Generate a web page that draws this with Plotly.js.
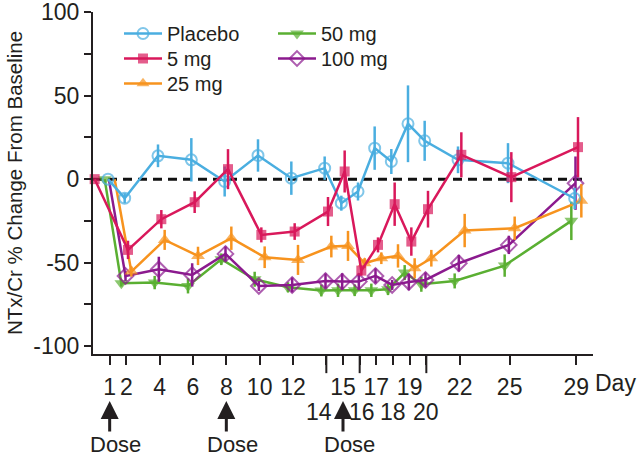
<!DOCTYPE html>
<html>
<head>
<meta charset="utf-8">
<script src="https://cdn.plot.ly/plotly-3.0.1.min.js"></script>
<style>
html,body{margin:0;padding:0;background:#fff;}
#chart{width:638px;height:458px;}
</style>
</head>
<body>
<div id="chart"></div>
<script>
// ---- data ----
const days = [1, 2, 4, 6, 8, 10, 12, 14, 15, 16, 17, 18, 19, 20, 22, 25, 29];
const days5mg = [0, 2, 4, 6, 8, 10, 12, 14, 15, 16, 17, 18, 19, 20, 22, 25, 29];

const placebo    = [0, -11.4, 14, 11.6, -1.4, 14.2, 0.6, 6.6, -14.4, -7.4, 18.6, 10.6, 33.2, 23, 11.6, 9.6, -11.6];
const placeboErr = [0, 3, 6.8, 13, 9, 9.7, 10, 7, 4.5, 5.4, 13, 7.5, 23, 12, 8, 12, 6.4];

const mg5    = [0, -42.4, -24, -13.8, 6, -33.4, -31.4, -19.4, 4.6, -54.8, -39.4, -15, -37.4, -18, 14.6, 1.2, 19.2];
const mg5Err = [0, 5.5, 5.5, 6.5, 12, 4.5, 5, 8.7, 12.6, 3, 4.5, 13, 8.5, 11, 13.5, 15, 18];

const mg25    = [0, -55.4, -36.4, -46, -35.4, -46.8, -48.4, -40.4, -40, -50.4, -47.4, -46, -53.4, -47.4, -30.8, -29.4, -13];
const mg25Err = [0, 3, 6, 5.5, 7, 6.5, 9, 6.5, 9, 3, 3.5, 7, 6, 5, 10, 7, 10];

const mg50    = [0, -62.4, -62, -64, -48, -60, -64.8, -66.8, -66.6, -66.6, -66.6, -66, -56, -63, -61, -51.8, -25];
const mg50Err = [0, 2, 4, 4.5, 3.5, 4.5, 3, 3.5, 4, 3.5, 4, 3.5, 4.5, 4.5, 4.5, 6.7, 11.5];

const mg100    = [0, -58, -54, -57.4, -44.8, -64, -63.4, -61, -61.4, -61.4, -58, -63.4, -61.6, -60.4, -50.4, -39.4, -2.4];
const mg100Err = [0, 3, 7.5, 7, 4.5, 3, 4.5, 4.5, 5, 5, 4.5, 3, 5, 4.5, 5, 5.5, 16];

const xTickVals = [1, 2, 4, 6, 8, 10, 12, 14, 15, 16, 17, 18, 19, 20, 22, 25, 29];
const xTickText = ['1', '2', '4', '6', '8', '10', '12', '', '15', '', '17', '', '19', '', '22', '25', '29'];
const xLowerLabels = [14, 16, 18, 20];
const xLongTicks = [14, 16, 20];
const doseDays = [1, 8, 15];

const yTickVals = [-100, -75, -50, -25, 0, 25, 50, 75, 100];
const yTickText = ['-100', '', '-50', '', '0', '', '50', '', '100'];

// ---- styling ----
const FONT = 'Liberation Sans, Arial, Helvetica, sans-serif';
const INK = '#231f20';
const C = {placebo: '#4aaee0', mg5: '#d9185b', mg25: '#f7931e', mg50: '#5aaf32', mg100: '#8b1a8e'};
// small horizontal dodge so the error bars don't sit on each other
const dodge = {placebo: -0.1, mg5: 0.1, mg25: 0.3, mg50: -0.3, mg100: -0.05};

function series(name, xs, ys, err, color, symbol, size, off, legend, hideFirst) {
  const open = symbol.indexOf('open') >= 0;
  return {
    type: 'scatter', mode: 'lines+markers', name: name,
    x: xs.map(d => d + off), y: ys,
    error_y: {type: 'data', array: err, visible: true, color: color, thickness: 2.5, width: 0},
    line: {color: color, width: 2.5},
    marker: {symbol: symbol, size: ys.map((v, i) => (hideFirst && i === 0) ? 0 : size), color: color,
             line: {color: color, width: open ? 2 : 0}},
    cliponaxis: false,
    legend: legend
  };
}

const traces = [
  series('50 mg', days, mg50, mg50Err, C.mg50, 'triangle-down', 12, dodge.mg50, 'legend4', false),
  series('100 mg', days, mg100, mg100Err, C.mg100, 'diamond-open', 12, dodge.mg100, 'legend5', true),
  series('25 mg', days, mg25, mg25Err, C.mg25, 'triangle-up', 12, dodge.mg25, 'legend3', true),
  series('Placebo', days, placebo, placeboErr, C.placebo, 'circle-open', 11, dodge.placebo, 'legend', false),
  series('5 mg', days5mg, mg5, mg5Err, C.mg5, 'square', 10, dodge.mg5, 'legend2', false)
];

const shapes = [
  {type: 'line', xref: 'x', yref: 'y', x0: 0, x1: 29.7, y0: 0, y1: 0,
   line: {color: '#111', width: 3, dash: '9px,6px'}, layer: 'below'}
];
xLongTicks.forEach(d => shapes.push({
  type: 'line', xref: 'x', yref: 'paper', x0: d, x1: d, y0: 0, y1: -0.056,
  line: {color: INK, width: 2}
}));

const annotations = [];
xLowerLabels.forEach(d => annotations.push({
  xref: 'x', yref: 'paper', x: d, y: 0, yshift: -58, xshift: d === 14 ? -7 : (d === 16 ? 2 : 0),
  text: String(d), showarrow: false, font: {family: FONT, size: 23, color: INK},
  xanchor: 'center', yanchor: 'middle'
}));
doseDays.forEach(d => {
  annotations.push({
    xref: 'x', yref: 'paper', x: d, y: 0, yshift: -47, text: '', showarrow: true,
    ax: 0, ay: 32, arrowhead: 2, arrowsize: 1.2, arrowwidth: 3, arrowcolor: INK
  });
  annotations.push({
    xref: 'x', yref: 'paper', x: d, y: 0, yshift: -104, xshift: 6, text: 'Dose', showarrow: false,
    font: {family: FONT, size: 22, color: INK}, xanchor: 'center', yanchor: 'bottom', borderpad: 0
  });
});
annotations.push({
  xref: 'paper', yref: 'paper', x: 1, y: 0, yshift: -29, xshift: 0, text: 'Day', showarrow: false,
  font: {family: FONT, size: 23, color: INK}, xanchor: 'left', yanchor: 'middle'
});

function legendAt(leftPx, rowCenterPx) {
  return {x: (leftPx - 93) / 500, y: (354 - (rowCenterPx - 19)) / 342, xanchor: 'left', yanchor: 'top',
          bgcolor: 'rgba(0,0,0,0)', font: {family: FONT, size: 20, color: INK}, itemwidth: 38};
}

const layout = {
  width: 638, height: 458,
  margin: {l: 93, r: 45, t: 12, b: 104, pad: 0},
  paper_bgcolor: '#fff', plot_bgcolor: '#fff',
  font: {family: FONT, size: 22, color: INK},
  showlegend: true,
  xaxis: {
    range: [0, 30], showgrid: false, zeroline: false,
    showline: true, linecolor: INK, linewidth: 2,
    ticks: 'outside', ticklen: 9, tickwidth: 2, tickcolor: INK,
    tickmode: 'array', tickvals: xTickVals, ticktext: xTickText,
    tickfont: {family: FONT, size: 23, color: INK}, tickangle: 0,
    ticklabelstandoff: 2, ticklabeloverflow: 'allow'
  },
  yaxis: {
    range: [-104.8, 100.2], showgrid: false, zeroline: false,
    showline: true, linecolor: INK, linewidth: 2,
    ticks: 'outside', ticklen: 7, tickwidth: 2, tickcolor: INK,
    tickmode: 'array', tickvals: yTickVals, ticktext: yTickText,
    tickfont: {family: FONT, size: 23, color: INK}, ticklabeloverflow: 'allow',
    title: {text: 'NTx/Cr % Change From Baseline', font: {family: FONT, size: 20.5, color: INK}, standoff: 5}
  },
  legend: legendAt(119, 33),
  legend2: legendAt(119, 58),
  legend3: legendAt(119, 83),
  legend4: legendAt(273, 33),
  legend5: legendAt(273, 58),
  shapes: shapes,
  annotations: annotations
};

Plotly.newPlot('chart', traces, layout, {displayModeBar: false, staticPlot: true});
</script>
</body>
</html>
